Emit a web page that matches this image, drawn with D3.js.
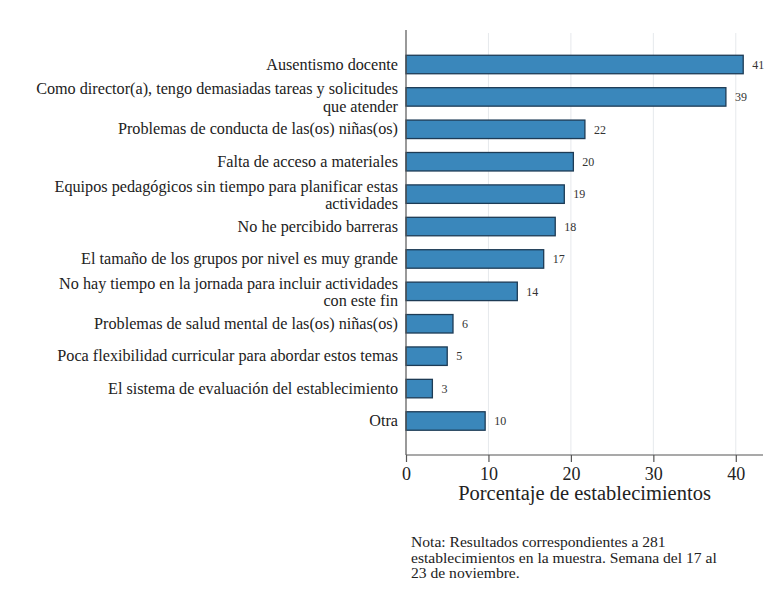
<!DOCTYPE html>
<html>
<head>
<meta charset="utf-8">
<script src="https://cdn.jsdelivr.net/npm/d3@7"></script>
<style>
  html, body { margin: 0; padding: 0; background: #fff; }
  svg { display: block; }
</style>
</head>
<body>
<svg id="chart" width="771" height="608"></svg>
<script>
const categories = [
  ["Ausentismo docente"],
  ["Como director(a), tengo demasiadas tareas y solicitudes", "que atender"],
  ["Problemas de conducta de las(os) niñas(os)"],
  ["Falta de acceso a materiales"],
  ["Equipos pedagógicos sin tiempo para planificar estas", "actividades"],
  ["No he percibido barreras"],
  ["El tamaño de los grupos por nivel es muy grande"],
  ["No hay tiempo en la jornada para incluir actividades", "con este fin"],
  ["Problemas de salud mental de las(os) niñas(os)"],
  ["Poca flexibilidad curricular para abordar estos temas"],
  ["El sistema de evaluación del establecimiento"],
  ["Otra"]
];
const values = [40.9, 38.8, 21.7, 20.3, 19.2, 18.1, 16.7, 13.5, 5.7, 5.0, 3.2, 9.6];
const valueLabels = ["41", "39", "22", "20", "19", "18", "17", "14", "6", "5", "3", "10"];
const xTicks = [0, 10, 20, 30, 40];
const xTitle = "Porcentaje de establecimientos";
const noteLines = [
  "Nota: Resultados correspondientes a 281",
  "establecimientos en la muestra. Semana del 17 al",
  "23 de noviembre."
];

const FONT = "'Liberation Serif', 'Times New Roman', serif";
const svg = d3.select("#chart");
const plot = { left: 406, right: 763, top: 30, bottom: 455 };

const x = d3.scaleLinear().domain([0, 43.3]).range([plot.left, plot.right]);
const ids = categories.map((d, i) => i);
const y = d3.scaleBand().domain(ids).range([48.3, 437.2]).paddingInner(0.43).paddingOuter(0.215);

// gridlines
svg.append("g").selectAll("line").data(xTicks.filter(t => t > 0)).join("line")
  .attr("x1", d => x(d)).attr("x2", d => x(d))
  .attr("y1", 33).attr("y2", plot.bottom)
  .attr("stroke", "#e6e9ec").attr("stroke-width", 1);

// bars
svg.append("g").selectAll("rect").data(values).join("rect")
  .attr("x", x(0))
  .attr("y", (d, i) => y(i))
  .attr("width", d => x(d) - x(0))
  .attr("height", y.bandwidth())
  .attr("fill", "#3a87bb")
  .attr("stroke", "#1d3b55")
  .attr("stroke-width", 1.3);

// value labels
svg.append("g").selectAll("text").data(values).join("text")
  .attr("x", d => x(d) + 9)
  .attr("y", (d, i) => y(i) + y.bandwidth() / 2)
  .attr("dy", "0.35em")
  .style("font-family", FONT)
  .attr("font-size", 12)
  .attr("fill", "#333")
  .text((d, i) => valueLabels[i]);

// y axis line
svg.append("line")
  .attr("x1", plot.left).attr("x2", plot.left)
  .attr("y1", plot.top).attr("y2", plot.bottom)
  .attr("stroke", "#555").attr("stroke-width", 1.2);

// category labels
const lab = svg.append("g").selectAll("text").data(categories).join("text")
  .attr("text-anchor", "end")
  .style("font-family", FONT)
  .attr("font-size", 16.2)
  .attr("fill", "#222")
  .attr("transform", (d, i) => {
    const cy = y(i) + y.bandwidth() / 2;
    const off = d.length === 1 ? 5 : -2.5;
    return `translate(398,${cy + off})`;
  });
lab.selectAll("tspan").data(d => d).join("tspan")
  .attr("x", 0)
  .attr("dy", (d, j) => j === 0 ? 0 : 17.2)
  .text(d => d);

// x axis
const xAxis = d3.axisBottom(x).tickValues(xTicks).tickSize(7).tickPadding(5).tickFormat(d3.format("d"));
const gx = svg.append("g").attr("transform", `translate(0,${plot.bottom})`).call(xAxis);
gx.select(".domain").attr("stroke", "#555").attr("stroke-width", 1.2)
  .attr("d", `M${plot.left},0H${plot.right}`);
gx.selectAll(".tick line").attr("stroke", "#555").attr("stroke-width", 1.2);
gx.selectAll(".tick text").attr("font-size", 18).attr("fill", "#222")
  .style("font-family", FONT);

svg.append("text")
  .attr("x", 584.5)
  .attr("y", 500)
  .attr("text-anchor", "middle")
  .style("font-family", FONT)
  .attr("font-size", 20.5)
  .attr("fill", "#222")
  .text(xTitle);

// note
svg.append("g").selectAll("text").data(noteLines).join("text")
  .attr("x", 411)
  .attr("y", (d, i) => 547 + i * 15.6)
  .style("font-family", FONT)
  .attr("font-size", 15.6)
  .attr("fill", "#222")
  .text(d => d);
</script>
</body>
</html>
